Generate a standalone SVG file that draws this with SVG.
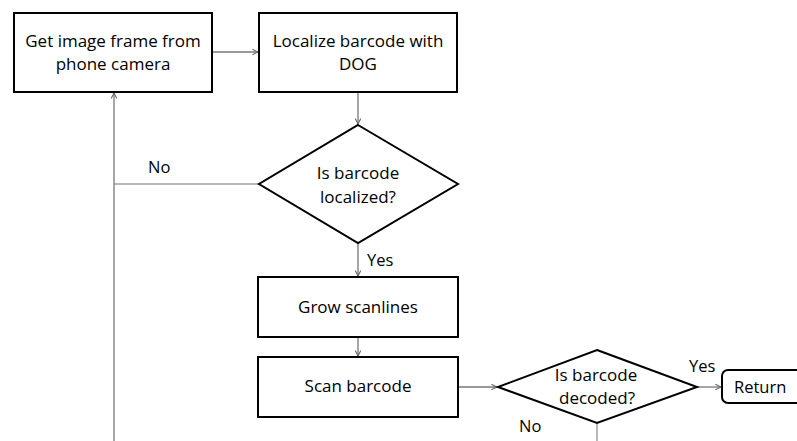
<svg xmlns="http://www.w3.org/2000/svg" width="797" height="441" viewBox="0 0 797 441">
<style>
.box{fill:#fff;stroke:#000;stroke-width:2}
.t{font-family:"Open Sans","Liberation Sans",sans-serif;font-size:17px;fill:#000;text-anchor:middle}
.l{font-family:"Open Sans","Liberation Sans",sans-serif;font-size:16.5px;fill:#000}
.c{fill:none;stroke:#777;stroke-width:1.3}
.g{fill:none;stroke:#a0a0a0;stroke-width:1.5}
</style>
<defs>
<marker id="ah" viewBox="0 0 10 10" refX="9" refY="5" markerWidth="7" markerHeight="7" markerUnits="userSpaceOnUse" orient="auto">
<path d="M1,1 L9,5 L1,9" fill="none" stroke="#666" stroke-width="1.5"/>
</marker>
</defs>
<rect width="797" height="441" fill="#fff"/>
<g id="connectors">
<line class="c" x1="212" y1="52" x2="258" y2="52" marker-end="url(#ah)"/>
<line class="c" x1="358" y1="92" x2="358" y2="124" marker-end="url(#ah)"/>
<line class="c" x1="358" y1="243" x2="358" y2="276" marker-end="url(#ah)"/>
<line class="c" x1="358" y1="337" x2="358" y2="356" marker-end="url(#ah)"/>
<line class="c" x1="458" y1="387" x2="497" y2="387" marker-end="url(#ah)"/>
<line class="c" x1="697" y1="387" x2="721" y2="387" marker-end="url(#ah)"/>
<polyline class="g" points="259,184 114,184"/>
<line class="c" x1="114" y1="441" x2="114" y2="93" marker-end="url(#ah)"/>
<line class="g" x1="597" y1="423" x2="597" y2="441"/>
<text class="l" x="148" y="173">No</text>
<text class="l" x="367" y="266">Yes</text>
<text class="l" x="519" y="432">No</text>
<text class="l" x="689" y="372">Yes</text>
</g>
<g id="get-frame">
<rect class="box" x="14" y="13" width="198" height="79"/>
<text class="t" x="113" y="47">Get image frame from</text>
<text class="t" x="113" y="70">phone camera</text>
</g>
<g id="localize">
<rect class="box" x="259" y="13" width="198" height="79"/>
<text class="t" x="358" y="47">Localize barcode with</text>
<text class="t" x="358" y="70">DOG</text>
</g>
<g id="is-localized">
<polygon class="box" points="358,125 458,184 358,243 259,184"/>
<text class="t" x="358" y="179">Is barcode</text>
<text class="t" x="358" y="203">localized?</text>
</g>
<g id="grow">
<rect class="box" x="258" y="277" width="200" height="60"/>
<text class="t" x="358" y="313">Grow scanlines</text>
</g>
<g id="scan">
<rect class="box" x="258" y="357" width="200" height="60"/>
<text class="t" x="358" y="392">Scan barcode</text>
</g>
<g id="is-decoded">
<polygon class="box" points="597,350 697,387 597,423 498,387"/>
<text class="t" x="596" y="381">Is barcode</text>
<text class="t" x="597" y="404">decoded?</text>
</g>
<g id="return">
<rect class="box" x="722" y="370" width="90" height="33" rx="6"/>
<text class="l" x="734" y="393">Return</text>
</g>
</svg>
